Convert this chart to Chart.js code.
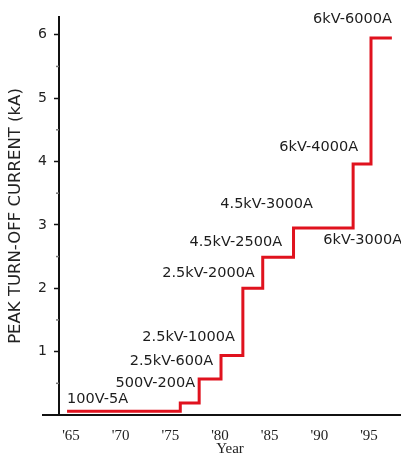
<!DOCTYPE html>
<html>
<head>
<meta charset="utf-8">
<title>Peak turn-off current</title>
<script src="https://cdn.jsdelivr.net/npm/chart.js@4/dist/chart.umd.min.js"></script>
<style>
    body { margin: 0; background: #fff; }
    #wrap { width: 401px; height: 459px; position: relative; }
</style>
</head>
<body>
<div id="wrap"><canvas id="gtoChart"></canvas></div>
<script>
// Step data: year where each rating starts, peak current (kA)
const stepYears = [64.6, 76.0, 77.9, 80.1, 82.3, 84.3, 87.4, 93.4, 95.2, 97.3];
const stepCurrents = [0.06, 0.19, 0.57, 0.94, 2.0, 2.49, 2.95, 3.96, 5.95, 5.95];

const xTicks = [65, 70, 75, 80, 85, 90, 95];
const yTicks = [1, 2, 3, 4, 5, 6];

// Device ratings written next to the steps (anchor in year / kA)
const ratingLabels = ["100V-5A", "500V-200A", "2.5kV-600A", "2.5kV-1000A", "2.5kV-2000A",
    "4.5kV-2500A", "4.5kV-3000A", "6kV-3000A", "6kV-4000A", "6kV-6000A"];
const ratingYears = [64.6, 77.5, 79.3, 81.5, 83.5, 86.25, 89.35, 90.4, 93.9, 97.3];
const ratingLevels = [0.25, 0.5, 0.85, 1.23, 2.23, 2.72, 3.33, 2.75, 4.22, 6.24];
const ratingAlign = ["left", "right", "right", "right", "right", "right", "right", "left", "right", "right"];

// Dibuja el eje X largo, las marcas menores y las etiquetas
const extrasPlugin = {
    id: 'extras',
    beforeDatasetsDraw(chart) {
        const { ctx, scales: { x, y } } = chart;
        const y0 = y.getPixelForValue(0);
        ctx.save();
        ctx.strokeStyle = '#111';
        ctx.lineWidth = 2;
        ctx.beginPath();
        ctx.moveTo(42, y0);
        ctx.lineTo(chart.width, y0);
        ctx.stroke();

        ctx.strokeStyle = '#777';
        ctx.lineWidth = 1.5;
        for (let v = 0.5; v < 6; v += 1) {
            const py = y.getPixelForValue(v);
            ctx.beginPath();
            ctx.moveTo(x.left - 3, py);
            ctx.lineTo(x.left, py);
            ctx.stroke();
        }
        ctx.restore();
    },
    afterDatasetsDraw(chart) {
        const { ctx, scales: { x, y } } = chart;
        ctx.save();
        ctx.font = '14.5px "DejaVu Sans"';
        ctx.fillStyle = '#1c1c1c';
        ctx.textBaseline = 'middle';
        ratingLabels.forEach((t, i) => {
            ctx.textAlign = ratingAlign[i];
            ctx.fillText(t, x.getPixelForValue(ratingYears[i]), y.getPixelForValue(ratingLevels[i]));
        });
        ctx.restore();
    }
};

function initializeChart() {
    const ctx = document.getElementById('gtoChart').getContext('2d');
    new Chart(ctx, {
        type: 'line',
        data: {
            datasets: [{
                data: stepYears.map((yr, i) => ({ x: yr, y: stepCurrents[i] })),
                stepped: 'before',
                borderColor: '#e0121e',
                borderWidth: 3,
                pointRadius: 0,
                fill: false
            }]
        },
        options: {
            responsive: true,
            maintainAspectRatio: false,
            animation: false,
            layout: { padding: { top: 17, left: 0, right: 0, bottom: 0 } },
            plugins: {
                legend: { display: false },
                tooltip: { enabled: false }
            },
            scales: {
                x: {
                    type: 'linear',
                    min: 63.79,
                    max: 98.22,
                    afterFit: scale => { scale.height = 44; },
                    afterBuildTicks: scale => { scale.ticks = xTicks.map(v => ({ value: v })); },
                    grid: { display: false },
                    border: { display: false },
                    ticks: {
                        padding: 4,
                        color: '#222',
                        font: { family: '"Liberation Serif"', size: 15 },
                        callback: v => "'" + v
                    },
                    title: {
                        display: true,
                        text: 'Year',
                        color: '#222',
                        font: { family: '"Liberation Serif"', size: 15 },
                        padding: { top: 0, bottom: 1 }
                    }
                },
                y: {
                    min: 0,
                    max: 6.28,
                    afterFit: scale => { scale.width = 59; },
                    afterBuildTicks: scale => { scale.ticks = [0].concat(yTicks).map(v => ({ value: v })); },
                    grid: {
                        drawOnChartArea: false,
                        drawTicks: true,
                        tickLength: 5,
                        tickWidth: 1.5,
                        tickColor: c => c.tick && c.tick.value > 0 ? '#111' : 'rgba(0,0,0,0)'
                    },
                    border: { display: true, color: '#111', width: 2 },
                    ticks: {
                        padding: 7,
                        color: '#222',
                        font: { family: '"DejaVu Sans"', size: 14 },
                        callback: v => v > 0 ? v : ''
                    },
                    title: {
                        display: true,
                        text: 'PEAK TURN-OFF CURRENT (kA)',
                        color: '#222',
                        font: { family: '"DejaVu Sans"', size: 16.5 },
                        padding: { top: 6, bottom: 0 }
                    }
                }
            }
        },
        plugins: [extrasPlugin]
    });
}

initializeChart();
</script>
</body>
</html>
